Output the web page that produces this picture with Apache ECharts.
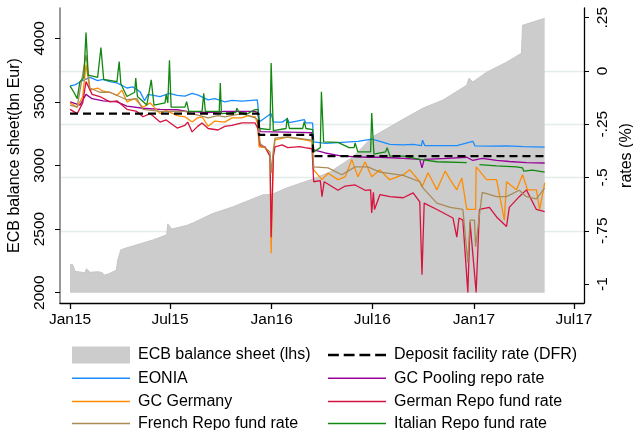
<!DOCTYPE html>
<html lang="en">
<head>
<meta charset="UTF-8" />
<title>ECB balance sheet and money market rates</title>
<script src="https://cdn.jsdelivr.net/npm/echarts@6.0.0/dist/echarts.min.js"></script>
<style>
  html, body { margin: 0; padding: 0; background: #fff; }
  #main { width: 633px; height: 430px; }
</style>
</head>
<body>
<div id="main"></div>
<script>
// tick labels
const dateTicks = ['2015-01-01', '2015-07-01', '2016-01-01', '2016-07-01', '2017-01-01', '2017-07-01']
const ecbTicks = [2000, 2500, 3000, 3500, 4000]
const rateTicks = [-1, -0.75, -0.5, -0.25, 0, 0.25]

// ECB balance sheet, bn Eur (left axis)
const ecbBalance = [
  ['2015-01-01', 2220], ['2015-01-06', 2220], ['2015-01-10', 2168], ['2015-01-28', 2157],
  ['2015-01-31', 2188], ['2015-02-06', 2160], ['2015-02-21', 2165], ['2015-02-28', 2157],
  ['2015-03-05', 2138], ['2015-03-14', 2152], ['2015-03-26', 2178], ['2015-03-28', 2251],
  ['2015-04-03', 2337], ['2015-04-14', 2353], ['2015-05-02', 2376], ['2015-06-01', 2416],
  ['2015-06-25', 2455], ['2015-06-27', 2541], ['2015-07-04', 2500], ['2015-08-01', 2530],
  ['2015-08-12', 2549], ['2015-09-15', 2620], ['2015-10-22', 2674], ['2015-12-16', 2769],
  ['2016-01-01', 2772], ['2016-01-28', 2823], ['2016-03-16', 2894], ['2016-04-16', 2950],
  ['2016-05-28', 3070], ['2016-07-01', 3224], ['2016-08-20', 3349], ['2016-10-01', 3451],
  ['2016-11-06', 3514], ['2016-12-19', 3631], ['2016-12-23', 3686], ['2016-12-30', 3657],
  ['2017-01-24', 3733], ['2017-03-01', 3812], ['2017-03-28', 3882], ['2017-03-30', 4102],
  ['2017-05-09', 4157]
]

// rates, % (right axis)
const dfr = [
  ['2015-01-01', -0.2], ['2015-12-08', -0.2], ['2015-12-09', -0.3],
  ['2016-03-15', -0.3], ['2016-03-16', -0.4], ['2017-05-09', -0.4]
]

const eonia = [
  ['2015-01-01', -0.07], ['2015-01-10', -0.065], ['2015-01-24', -0.045], ['2015-02-06', -0.03],
  ['2015-02-20', -0.045], ['2015-03-02', -0.04], ['2015-03-14', -0.05], ['2015-03-27', -0.056],
  ['2015-04-14', -0.08], ['2015-04-25', -0.075], ['2015-05-08', -0.098], ['2015-05-16', -0.14],
  ['2015-05-22', -0.11], ['2015-06-13', -0.12], ['2015-06-30', -0.105], ['2015-07-14', -0.115],
  ['2015-07-28', -0.118], ['2015-08-10', -0.105], ['2015-08-20', -0.112], ['2015-09-08', -0.136],
  ['2015-09-20', -0.13], ['2015-10-08', -0.145], ['2015-10-21', -0.138], ['2015-11-08', -0.142],
  ['2015-11-26', -0.138], ['2015-12-06', -0.136], ['2015-12-10', -0.238], ['2015-12-31', -0.2],
  ['2016-01-04', -0.24], ['2016-01-20', -0.24], ['2016-01-29', -0.225], ['2016-02-02', -0.242],
  ['2016-02-29', -0.228], ['2016-03-03', -0.244], ['2016-03-15', -0.244], ['2016-03-17', -0.333],
  ['2016-04-07', -0.34], ['2016-05-07', -0.335], ['2016-06-05', -0.33], ['2016-06-30', -0.32],
  ['2016-07-15', -0.33], ['2016-08-02', -0.345], ['2016-08-26', -0.347], ['2016-09-13', -0.345],
  ['2016-09-28', -0.35], ['2016-09-30', -0.325], ['2016-10-04', -0.35], ['2016-11-01', -0.35],
  ['2016-12-01', -0.35], ['2016-12-30', -0.33], ['2017-01-03', -0.352], ['2017-02-01', -0.353],
  ['2017-03-01', -0.352], ['2017-04-01', -0.355], ['2017-05-09', -0.357]
]

const gcPooling = [
  ['2015-01-01', -0.145], ['2015-01-19', -0.16], ['2015-01-30', -0.11], ['2015-02-10', -0.13],
  ['2015-03-02', -0.14], ['2015-03-27', -0.145], ['2015-04-14', -0.165], ['2015-05-13', -0.175],
  ['2015-06-13', -0.18], ['2015-07-14', -0.182], ['2015-08-01', -0.19], ['2015-09-08', -0.195],
  ['2015-10-08', -0.19], ['2015-11-08', -0.19], ['2015-12-02', -0.19], ['2015-12-07', -0.195],
  ['2015-12-11', -0.285], ['2016-02-21', -0.288], ['2016-03-14', -0.29], ['2016-03-17', -0.37],
  ['2016-04-07', -0.385], ['2016-05-07', -0.4], ['2016-06-23', -0.405], ['2016-07-15', -0.405],
  ['2016-08-26', -0.41], ['2016-09-25', -0.415], ['2016-09-29', -0.455], ['2016-10-03', -0.415],
  ['2016-11-13', -0.41], ['2016-12-19', -0.405], ['2016-12-30', -0.42], ['2017-01-16', -0.41],
  ['2017-02-11', -0.42], ['2017-03-06', -0.425], ['2017-04-06', -0.43], ['2017-05-09', -0.432]
]

const gcGermany = [
  ['2015-01-01', -0.15], ['2015-01-14', -0.17], ['2015-01-24', -0.12], ['2015-01-30', 0.03],
  ['2015-02-06', -0.09], ['2015-02-20', -0.08], ['2015-03-02', -0.095], ['2015-03-14', -0.1],
  ['2015-03-27', -0.115], ['2015-04-05', -0.09], ['2015-04-14', -0.145], ['2015-04-28', -0.13],
  ['2015-05-13', -0.17], ['2015-05-26', -0.15], ['2015-06-13', -0.2], ['2015-06-24', -0.185],
  ['2015-07-14', -0.21], ['2015-07-28', -0.215], ['2015-08-10', -0.24], ['2015-08-20', -0.22],
  ['2015-08-28', -0.215], ['2015-09-08', -0.26], ['2015-09-20', -0.235], ['2015-10-08', -0.24],
  ['2015-10-21', -0.22], ['2015-11-08', -0.22], ['2015-11-19', -0.21], ['2015-12-02', -0.215],
  ['2015-12-07', -0.25], ['2015-12-09', -0.356], ['2015-12-20', -0.36], ['2015-12-29', -0.4],
  ['2015-12-31', -0.855], ['2016-01-04', -0.4], ['2016-01-07', -0.323], ['2016-01-30', -0.31],
  ['2016-02-21', -0.32], ['2016-03-01', -0.323], ['2016-03-14', -0.33], ['2016-03-17', -0.464],
  ['2016-04-01', -0.51], ['2016-04-12', -0.48], ['2016-04-30', -0.51], ['2016-05-13', -0.497],
  ['2016-05-25', -0.417], ['2016-06-05', -0.497], ['2016-06-18', -0.427], ['2016-06-30', -0.497],
  ['2016-07-15', -0.464], ['2016-07-28', -0.5], ['2016-08-02', -0.51], ['2016-08-26', -0.487],
  ['2016-09-07', -0.464], ['2016-09-25', -0.52], ['2016-09-29', -0.544], ['2016-10-10', -0.478],
  ['2016-10-26', -0.558], ['2016-11-10', -0.47], ['2016-11-19', -0.51], ['2016-12-01', -0.558],
  ['2016-12-10', -0.502], ['2016-12-19', -0.65], ['2017-01-04', -0.65], ['2017-01-05', -0.45],
  ['2017-01-24', -0.51], ['2017-02-11', -0.51], ['2017-02-25', -0.7], ['2017-03-01', -0.52],
  ['2017-03-19', -0.558], ['2017-03-30', -0.487], ['2017-04-08', -0.558], ['2017-04-24', -0.558],
  ['2017-04-30', -0.65], ['2017-05-09', -0.525]
]

const germanRepo = [
  ['2015-01-01', -0.18], ['2015-01-14', -0.2], ['2015-01-24', -0.15], ['2015-01-30', -0.05],
  ['2015-02-10', -0.11], ['2015-02-24', -0.12], ['2015-03-14', -0.145], ['2015-03-27', -0.14],
  ['2015-04-14', -0.18], ['2015-05-02', -0.19], ['2015-05-13', -0.215], ['2015-05-26', -0.2],
  ['2015-06-13', -0.24], ['2015-06-24', -0.23], ['2015-07-14', -0.268], ['2015-07-28', -0.255],
  ['2015-08-02', -0.24], ['2015-08-10', -0.286], ['2015-08-20', -0.26], ['2015-08-28', -0.244],
  ['2015-09-08', -0.27], ['2015-09-26', -0.277], ['2015-10-08', -0.26], ['2015-10-21', -0.255],
  ['2015-11-08', -0.244], ['2015-12-02', -0.244], ['2015-12-07', -0.27], ['2015-12-11', -0.35],
  ['2015-12-20', -0.356], ['2015-12-29', -0.4], ['2015-12-31', -0.78], ['2016-01-04', -0.4],
  ['2016-01-07', -0.356], ['2016-01-20', -0.347], ['2016-01-30', -0.36], ['2016-02-21', -0.355],
  ['2016-03-01', -0.36], ['2016-03-14', -0.365], ['2016-03-17', -0.52], ['2016-03-29', -0.515],
  ['2016-04-01', -0.59], ['2016-04-05', -0.52], ['2016-04-30', -0.56], ['2016-05-13', -0.54],
  ['2016-05-31', -0.535], ['2016-06-18', -0.56], ['2016-06-28', -0.558], ['2016-06-30', -0.666],
  ['2016-07-03', -0.57], ['2016-07-05', -0.65], ['2016-07-15', -0.58], ['2016-08-02', -0.59],
  ['2016-08-26', -0.595], ['2016-09-13', -0.572], ['2016-09-25', -0.614], ['2016-09-29', -0.956],
  ['2016-10-03', -0.62], ['2016-10-26', -0.65], ['2016-11-13', -0.675], ['2016-11-24', -0.69],
  ['2016-12-01', -0.78], ['2016-12-05', -0.69], ['2016-12-12', -0.7], ['2016-12-21', -1.04],
  ['2016-12-25', -0.71], ['2017-01-05', -1.04], ['2017-01-11', -0.65], ['2017-01-29', -0.64],
  ['2017-02-11', -0.685], ['2017-03-01', -0.73], ['2017-03-06', -0.64], ['2017-03-24', -0.59],
  ['2017-04-06', -0.558], ['2017-04-24', -0.65], ['2017-05-09', -0.66]
]

const frenchRepo = [
  ['2015-01-01', -0.16], ['2015-01-14', -0.17], ['2015-01-30', 0.075], ['2015-02-06', -0.08],
  ['2015-02-24', -0.1], ['2015-03-14', -0.1], ['2015-04-14', -0.135], ['2015-05-02', -0.13],
  ['2015-05-13', -0.18], ['2015-06-13', -0.19], ['2015-07-14', -0.19], ['2015-07-28', -0.19],
  ['2015-08-10', -0.2], ['2015-09-08', -0.22], ['2015-09-26', -0.21], ['2015-10-08', -0.215],
  ['2015-11-08', -0.2], ['2015-12-02', -0.22], ['2015-12-07', -0.23], ['2015-12-11', -0.34],
  ['2015-12-29', -0.38], ['2015-12-31', -0.48], ['2016-01-04', -0.37], ['2016-01-07', -0.315],
  ['2016-01-30', -0.31], ['2016-03-14', -0.325], ['2016-03-17', -0.45], ['2016-04-12', -0.455],
  ['2016-05-07', -0.487], ['2016-05-31', -0.45], ['2016-06-23', -0.45], ['2016-07-15', -0.475],
  ['2016-08-26', -0.49], ['2016-09-25', -0.52], ['2016-10-01', -0.55], ['2016-10-26', -0.62],
  ['2016-11-19', -0.64], ['2016-12-12', -0.65], ['2016-12-21', -0.9], ['2016-12-25', -0.7],
  ['2017-01-02', -0.7], ['2017-01-04', -0.825], ['2017-01-16', -0.57], ['2017-02-11', -0.59],
  ['2017-03-01', -0.59], ['2017-03-24', -0.56], ['2017-04-06', -0.59], ['2017-04-24', -0.6],
  ['2017-05-09', -0.55]
]

const italianRepo = [
  ['2015-01-01', -0.07], ['2015-01-08', -0.1], ['2015-01-14', -0.13], ['2015-01-19', -0.05],
  ['2015-01-26', -0.03], ['2015-01-30', 0.18], ['2015-02-03', -0.02], ['2015-02-20', -0.03],
  ['2015-02-26', 0.11], ['2015-03-03', -0.04], ['2015-03-27', -0.05], ['2015-03-31', 0.044],
  ['2015-04-03', -0.06], ['2015-04-14', -0.12], ['2015-04-28', -0.1], ['2015-04-30', -0.033],
  ['2015-05-03', -0.12], ['2015-05-20', -0.16], ['2015-05-28', -0.042], ['2015-06-02', -0.16],
  ['2015-06-22', -0.15], ['2015-06-24', -0.11], ['2015-06-27', -0.15], ['2015-06-30', 0.05],
  ['2015-07-03', -0.17], ['2015-07-28', -0.17], ['2015-07-31', -0.144], ['2015-08-04', -0.19],
  ['2015-08-28', -0.19], ['2015-08-31', -0.105], ['2015-09-03', -0.19], ['2015-09-28', -0.19],
  ['2015-09-30', -0.057], ['2015-10-02', -0.2], ['2015-10-28', -0.195], ['2015-10-30', -0.175],
  ['2015-11-03', -0.195], ['2015-11-19', -0.2], ['2015-11-30', -0.183], ['2015-12-07', -0.18],
  ['2015-12-10', -0.27], ['2015-12-29', -0.275], ['2015-12-31', 0.037], ['2016-01-04', -0.28],
  ['2016-01-27', -0.27], ['2016-01-29', -0.22], ['2016-02-02', -0.27], ['2016-02-26', -0.27],
  ['2016-02-29', -0.238], ['2016-03-03', -0.27], ['2016-03-15', -0.275], ['2016-03-17', -0.38],
  ['2016-03-29', -0.36], ['2016-03-31', -0.098], ['2016-04-04', -0.333], ['2016-04-30', -0.335],
  ['2016-05-20', -0.36], ['2016-05-29', -0.36], ['2016-05-31', -0.338], ['2016-06-05', -0.38],
  ['2016-06-28', -0.38], ['2016-06-30', -0.197], ['2016-07-04', -0.39], ['2016-07-25', -0.38],
  ['2016-07-28', -0.36], ['2016-08-02', -0.4], ['2016-08-26', -0.4], ['2016-09-25', -0.415],
  ['2016-10-26', -0.426], ['2016-12-19', -0.43], ['2016-12-20', null], ['2017-01-10', null],
  ['2017-01-11', -0.44], ['2017-02-11', -0.445], ['2017-03-19', -0.45], ['2017-03-30', -0.455],
  ['2017-04-01', -0.47], ['2017-04-17', -0.465], ['2017-05-09', -0.475]
]

const DAY = 864e5
const toTime = s => { const p = s.split('-'); return +new Date(+p[0], +p[1] - 1, +p[2]) }
const toPoints = rows => rows.map(r => [toTime(r[0]), r[1] == null ? '-' : r[1]])
const xMin = toTime('2015-01-01') - 18.1 * DAY
const xMax = xMin + 948.3 * DAY
const MONTHS = ['Jan', 'Feb', 'Mar', 'Apr', 'May', 'Jun', 'Jul', 'Aug', 'Sep', 'Oct', 'Nov', 'Dec']
const FONT = 'Liberation Sans, Arial, sans-serif'

// legend glyphs
const LINE_ICON = 'path://M0,0H58V1.5H0Z'
const DASH_ICON = 'path://M0,0h10v2.4h-10z M14.5,0h10v2.4h-10z M29,0h10v2.4h-10z M43.5,0h10v2.4h-10z'

const chart = echarts.init(document.getElementById('main'), null, { renderer: 'canvas' })

function rateLine(name, data, color, extra) {
  return Object.assign({
    name: name,
    type: 'line',
    yAxisIndex: 1,
    data: toPoints(data),
    symbol: 'none',
    connectNulls: false,
    silent: true,
    lineStyle: { width: 1.3, color: color },
    itemStyle: { color: color },
    emphasis: { disabled: true }
  }, extra || {})
}

function legendBlock(left, top, items) {
  return {
    left: left, top: top, orient: 'vertical', padding: 0,
    itemWidth: 58, itemHeight: 17, itemGap: 6.2, selectedMode: false,
    textStyle: { fontFamily: FONT, fontSize: 16, color: '#000', lineHeight: 17, padding: [0, 0, 0, 3] },
    data: items
  }
}

const option = {
  animation: false,
  backgroundColor: '#fff',
  grid: { left: 60, right: 49, top: 8, bottom: 127, outerBoundsMode: 'none', containLabel: false },
  legend: [
    legendBlock(72, 346.5, [
      { name: 'ECB balance sheet (lhs)', icon: 'rect' },
      { name: 'EONIA', icon: LINE_ICON },
      { name: 'GC Germany', icon: LINE_ICON }
    ]),
    legendBlock(72, 415, [{ name: 'French Repo fund rate', icon: LINE_ICON }]),
    legendBlock(328, 346.5, [
      { name: 'Deposit facility rate (DFR)', icon: DASH_ICON },
      { name: 'GC Pooling repo rate', icon: LINE_ICON },
      { name: 'German Repo fund rate', icon: LINE_ICON }
    ]),
    legendBlock(328, 415, [{ name: 'Italian Repo fund rate', icon: LINE_ICON }])
  ],
  xAxis: {
    type: 'value',
    min: xMin,
    max: xMax,
    splitLine: { show: false },
    axisLine: { onZero: false, lineStyle: { color: '#000', width: 1.3 } },
    axisTick: { show: true, length: 6, lineStyle: { color: '#000', width: 1.3 }, customValues: dateTicks.map(toTime) },
    axisLabel: {
      customValues: dateTicks.map(toTime),
      margin: 9,
      fontFamily: FONT, fontSize: 15.5, color: '#000',
      formatter: v => { const d = new Date(v); return MONTHS[d.getMonth()] + String(d.getFullYear() % 100).padStart(2, '0') }
    }
  },
  yAxis: [
    {
      type: 'value',
      position: 'left',
      min: 1919,
      max: 4238,
      name: 'ECB balance sheet(bn Eur)',
      nameLocation: 'middle',
      nameRotate: 90,
      nameGap: 37,
      nameMoveOverlap: false,
      nameTextStyle: { fontFamily: FONT, fontSize: 16, color: '#000' },
      splitLine: { show: false },
      axisLine: { show: true, onZero: false, lineStyle: { color: '#777', width: 1.5 } },
      axisTick: { show: true, length: 5, lineStyle: { color: '#000' }, customValues: ecbTicks },
      axisLabel: {
        customValues: ecbTicks, rotate: 90, margin: 12, fontFamily: FONT, fontSize: 15.5, color: '#000',
        formatter: v => String(v)
      }
    },
    {
      type: 'value',
      position: 'right',
      min: -1.089,
      max: 0.2955,
      name: 'rates (%)',
      nameLocation: 'middle',
      nameRotate: 90,
      nameGap: 35,
      nameMoveOverlap: false,
      nameTextStyle: { fontFamily: FONT, fontSize: 16, color: '#000' },
      splitLine: { show: true, showMinLine: false, showMaxLine: false, lineStyle: { color: '#e4ecec', width: 1.3 } },
      axisLine: { show: true, onZero: false, lineStyle: { color: '#000', width: 1.3 } },
      axisTick: { show: true, length: 5, lineStyle: { color: '#000' }, customValues: rateTicks },
      axisLabel: {
        customValues: rateTicks, rotate: 90, margin: 11, fontFamily: FONT, fontSize: 15.5, color: '#000',
        formatter: v => v === 0 ? '0' : String(+v.toFixed(2)).replace('0.', '.')
      }
    }
  ],
  series: [
    {
      name: 'ECB balance sheet (lhs)',
      type: 'line',
      yAxisIndex: 0,
      data: toPoints(ecbBalance),
      symbol: 'none',
      silent: true,
      emphasis: { disabled: true },
      lineStyle: { width: 1, color: '#c6c6c6' },
      itemStyle: { color: '#cccccc' },
      areaStyle: { color: '#cccccc', opacity: 1, origin: 2000 },
      z: 1
    },
    rateLine('EONIA', eonia, '#1a8cff'),
    rateLine('GC Pooling repo rate', gcPooling, '#990099'),
    rateLine('GC Germany', gcGermany, '#ff8c00'),
    rateLine('German Repo fund rate', germanRepo, '#d6133f'),
    rateLine('French Repo fund rate', frenchRepo, '#a88b55'),
    rateLine('Italian Repo fund rate', italianRepo, '#118811'),
    rateLine('Deposit facility rate (DFR)', dfr, '#000', { lineStyle: { width: 2.2, color: '#000', type: [8, 5] } })
  ]
}

chart.setOption(option)
</script>
</body>
</html>
